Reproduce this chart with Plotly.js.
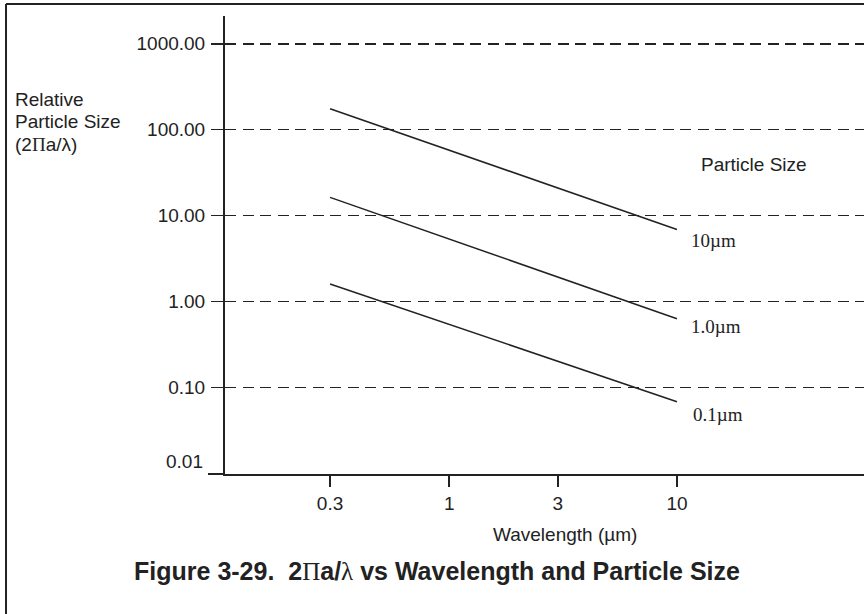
<!DOCTYPE html>
<html>
<head>
<meta charset="utf-8">
<script src="https://cdn.plot.ly/plotly-3.0.1.min.js"></script>
<style>html,body{margin:0;padding:0;background:#fff;}#chart{width:864px;height:614px;}</style>
</head>
<body>
<div id="chart"></div>
<script>
// Data
const wavelength = [0.3, 10];               // µm
const size10um = [175, 6.9];                // 2πa/λ for a = 10 µm
const size1um = [16.3, 0.63];               // a = 1.0 µm
const size01um = [1.6, 0.068];              // a = 0.1 µm
const seriesNames = ['10\u00b5m', '1.0\u00b5m', '0.1\u00b5m'];
const xTickVals = [0.3, 1, 3, 10];
const xTickText = ['0.3', '1', '3', '10'];
const yTickVals = [0.01, 0.1, 1, 10, 100, 1000];
const yTickText = ['', '0.10', '1.00', '10.00', '100.00', '1000.00'];

const ink = '#222222';
const sans = 'Liberation Sans, Arial, sans-serif';
const serif = 'Liberation Serif, Times New Roman, serif';

const xRange = [-0.984, 1.821];
const yRange = [-2.008, 3.323];

const allSeries = [size10um, size1um, size01um];
const traces = allSeries.map((ys, i) => ({
  x: wavelength, y: ys, type: 'scatter', mode: 'lines', name: seriesNames[i],
  line: {color: ink, width: 1.5}, showlegend: false, hoverinfo: 'skip'
}));

const labelShifts = [[12, -11], [12, -8], [14, -13]];
const annotations = allSeries.map((ys, i) => ({
  x: Math.log10(wavelength[1]), y: Math.log10(ys[1]), xref: 'x', yref: 'y',
  text: seriesNames[i], showarrow: false, xanchor: 'left', yanchor: 'middle',
  xshift: labelShifts[i][0], yshift: labelShifts[i][1],
  font: {family: serif, size: 19, color: ink}
}));

annotations.push(
  {x: 0.828, y: 0.6768, xref: 'paper', yref: 'paper', text: 'Particle Size', showarrow: false,
   xanchor: 'center', yanchor: 'middle', font: {family: sans, size: 19, color: ink}},
  {x: -0.3318, y: 0.8166, xref: 'paper', yref: 'paper', text: 'Relative', showarrow: false,
   xanchor: 'left', yanchor: 'middle', font: {family: sans, size: 19, color: ink}},
  {x: -0.3318, y: 0.7686, xref: 'paper', yref: 'paper', text: 'Particle Size', showarrow: false,
   xanchor: 'left', yanchor: 'middle', font: {family: sans, size: 19, color: ink}},
  {x: -0.3318, y: 0.7205, xref: 'paper', yref: 'paper', text: '(2<span style="font-family:Liberation Serif">\u03a0</span>a/\u03bb)', showarrow: false,
   xanchor: 'left', yanchor: 'middle', font: {family: sans, size: 19, color: ink}},
  {x: -0.0313, y: Math.log10(yTickVals[0]), xref: 'paper', yref: 'y', text: '0.01', showarrow: false,
   xanchor: 'right', yanchor: 'middle', yshift: 12, font: {family: sans, size: 19, color: ink}},
  {x: 0.532, y: -0.133, xref: 'paper', yref: 'paper', text: 'Wavelength (\u00b5m)', showarrow: false,
   xanchor: 'center', yanchor: 'middle', font: {family: sans, size: 19, color: ink}}
);

const layout = {
  width: 864, height: 614,
  margin: {l: 225, r: 0, t: 16, b: 140},
  paper_bgcolor: '#ffffff', plot_bgcolor: '#ffffff',
  showlegend: false,
  title: {
    text: '<b>Figure 3-29.  2<span style="font-family:Liberation Serif;font-weight:normal">\u03a0</span>a/<span style="font-family:Liberation Serif;font-weight:normal">\u03bb</span> vs Wavelength and Particle Size</b>',
    x: 437 / 864, xanchor: 'center', xref: 'container', y: 1 - 571 / 614, yanchor: 'middle', yref: 'container',
    font: {family: sans, size: 25, color: ink}
  },
  xaxis: {
    type: 'log', range: xRange, tickmode: 'array', tickvals: xTickVals, ticktext: xTickText,
    ticks: 'outside', ticklen: 11, tickwidth: 1.5, tickcolor: ink,
    showline: true, linecolor: ink, linewidth: 2, showgrid: false, zeroline: false,
    tickfont: {family: sans, size: 19, color: ink}, ticklabelstandoff: 0, fixedrange: true
  },
  xaxis2: {
    type: 'log', range: xRange, overlaying: 'x', anchor: 'y', side: 'bottom',
    tickmode: 'array', tickvals: xTickVals, ticks: 'inside', ticklen: 12, tickwidth: 1.5, tickcolor: ink,
    showticklabels: false, showline: false, showgrid: false, zeroline: false
  },
  yaxis: {
    type: 'log', range: yRange, tickmode: 'array', tickvals: yTickVals, ticktext: yTickText,
    ticks: 'outside', ticklen: 12, tickwidth: 1.5, tickcolor: ink,
    showline: true, linecolor: ink, linewidth: 2, zeroline: false,
    showgrid: true, gridcolor: ink, gridwidth: 1.5, griddash: '11px,6.5px',
    tickfont: {family: sans, size: 19, color: ink}, ticklabelstandoff: 2, fixedrange: true
  },
  shapes: [
    {type: 'line', xref: 'paper', yref: 'paper', x0: -0.3427, x1: -0.3427, y0: 1.0262, y1: -0.35,
     line: {color: ink, width: 2}},
    {type: 'line', xref: 'paper', yref: 'paper', x0: -0.3427, x1: 1.05, y0: 1.0262, y1: 1.0262,
     line: {color: ink, width: 2}},
    {type: 'line', xref: 'paper', yref: 'paper', x0: -0.0266, x1: 0, y0: 0, y1: 0,
     line: {color: ink, width: 2}}
  ],
  annotations: annotations
};

Plotly.newPlot('chart', traces, layout, {staticPlot: true, displayModeBar: false});
</script>
</body>
</html>
